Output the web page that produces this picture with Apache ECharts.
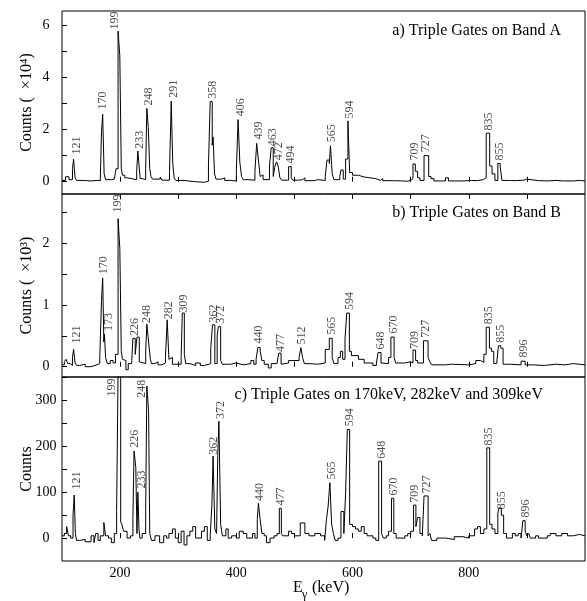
<!DOCTYPE html>
<html>
<head>
<meta charset="utf-8">
<script src="https://cdn.jsdelivr.net/npm/echarts@6/dist/echarts.min.js"></script>
<style>
  html, body { margin: 0; padding: 0; background: #fff; }
  #chart { width: 587px; height: 601px; }
</style>
</head>
<body>
<div id="chart"></div>
<script>
// energy axis (keV)
const xTicks = [200, 300, 400, 500, 600, 700, 800, 900]
const xTickLabels = [200, 400, 600, 800]

// y ticks per panel
const yTicksA = [0, 1, 2, 3, 4, 5, 6]
const yLabelsA = [0, 2, 4, 6]
const yTicksB = [0, 0.5, 1, 1.5, 2, 2.5]
const yLabelsB = [0, 1, 2]
const yTicksC = [0, 50, 100, 150, 200, 250, 300, 350]
const yLabelsC = [0, 100, 200, 300]

// spectra as [energy, counts] histogram steps
// a) counts x10^4
const spectrumA = [[100,0.05],[106,0.19],[112,0.08],[118,0.5],[120,0.86],[122.5,0.15],[125,0.05],[135,0.03],[150,0.05],[160,0.04],[166,0.15],[168,1.94],[170,2.58],[172.5,0.3],[175,0.08],[185,0.1],[190,0.08],[193,0.5],[196.5,5.77],[199.5,4.82],[202,0.5],[204,0.25],[208,0.15],[212,0.08],[228.5,0.4],[230.5,1.18],[232.5,0.65],[234.5,0.12],[238,0.08],[244,0.5],[246,2.81],[248.5,2.08],[251,0.5],[253,0.2],[256,0.1],[269,0.18],[272,0.06],[285,0.4],[288,3.09],[290.5,0.74],[293,0.15],[296,0.05],[310,0.0],[330,-0.02],[345,0.02],[352,0.6],[355,3.07],[358.5,1.4],[360,1.71],[362.5,0.3],[365,0.1],[375,0.15],[380,0.05],[390,0.03],[400,0.4],[403,2.38],[406,0.75],[409,0.2],[412,0.08],[420,0.06],[432,0.4],[435,1.47],[438,0.83],[441,0.2],[443,0.26],[446,0.08],[457,0.6],[460,1.3],[463.5,0.2],[466,0.55],[469,0.76],[472,0.6],[475,0.15],[478,0.06],[490,0.58],[494.5,0.15],[497,0.06],[506,0.08],[514,0.15],[518,0.04],[535,0.08],[540,0.05],[553,0.2],[556,0.83],[560,0.7],[562,1.38],[565,0.3],[568,0.08],[578,0.2],[580,0.45],[584,0.1],[588,0.87],[592,2.33],[595,0.35],[600,0.25],[610,0.18],[620,0.12],[640,0.05],[648,0.12],[652,0.04],[670,0.03],[685,0.02],[695,0.05],[700,0.12],[704,0.68],[708,0.4],[712,0.15],[716,0.05],[723,1.0],[731,0.2],[735,0.12],[740,0.03],[760,0.15],[765,0.03],[790,0.05],[805,0.04],[815,0.08],[825,0.15],[830,1.86],[836,0.6],[840,0.3],[845,0.05],[850,0.7],[854,0.6],[857,0.05],[870,0.04],[880,0.06],[895,0.1],[900,0.04],[920,0.03],[935,0.05],[950,0.03],[963,0.1],[966,0.03],[980,0.05],[990,0.03],[1000,0.03]]
// b) counts x10^3
const spectrumB = [[100,0.03],[104,0.08],[107,0.12],[110,0.05],[114,0.02],[118,0.15],[120,0.28],[122.5,0.06],[125,0.02],[130,0.04],[140,0.0],[150,0.03],[160,0.05],[165,0.15],[168,1.06],[170,1.44],[172,0.4],[173,0.53],[175,0.15],[178,0.05],[183,0.1],[188,0.06],[192,0.2],[196.5,2.4],[199.5,1.92],[202,0.25],[204,0.12],[207,0.1],[210,-0.05],[214,0.05],[220,0.1],[222,0.46],[226,0.2],[229,0.48],[233,0.08],[236,0.05],[244,0.25],[246,0.69],[249,0.4],[252,0.12],[254,0.05],[260,0.08],[265,0.03],[272,0.06],[278,0.15],[281,0.76],[284,0.12],[287,0.15],[290,0.04],[305,0.15],[307,0.87],[310.5,0.2],[313,0.05],[320,0.02],[330,0.06],[338,0.02],[345,0.05],[356,0.3],[359,0.68],[363,0.05],[367,0.5],[369,0.65],[373,0.1],[376,0.04],[390,0.06],[400,0.03],[412,0.05],[425,0.1],[430,0.04],[434,0.12],[437,0.31],[441,0.25],[444,0.1],[448,0.04],[455,-0.02],[460,0.05],[470,0.08],[473,0.22],[477,0.04],[480,0.06],[490,0.1],[508,0.15],[511,0.31],[514,0.15],[517,0.05],[525,0.04],[540,0.06],[553,0.28],[560,0.46],[565,0.15],[568,0.05],[575,0.15],[579,0.25],[583,0.12],[587,0.45],[590,0.87],[594.5,0.25],[598,0.18],[610,0.12],[620,0.06],[635,0.02],[641,0.06],[644,0.23],[649,0.06],[652,0.05],[662,0.15],[666,0.48],[671.5,0.15],[674,0.06],[690,0.08],[700,0.06],[704,0.27],[708.5,0.1],[712,0.06],[722,0.42],[730,0.15],[733,0.08],[736,0.03],[760,0.04],[770,0.03],[800,0.05],[812,0.1],[820,0.07],[826,0.2],[830,0.64],[835.5,0.3],[839,0.25],[843,0.05],[848,0.04],[851,0.34],[855,0.3],[859,0.04],[870,0.03],[890,0.09],[897,0.03],[910,0.02],[930,0.04],[950,0.03],[965,0.05],[980,0.03],[1000,0.03]]
// c) counts
const spectrumC = [[100,5],[104,10],[108,25],[111,5],[115,0],[119,50],[121,94],[123,10],[125,-5],[130,-3],[140,-8],[150,5],[155,-10],[158,10],[162,-5],[166,5],[172,34],[175,5],[180,0],[185,-10],[190,10],[194,58],[197,420],[201,35],[203,30],[206,15],[212,0],[218,5],[222,40],[224,190],[227,154],[229,10],[230.5,100],[232.5,20],[234,0],[238,10],[244,60],[246,332],[249,278],[251,10],[254,-5],[260,5],[268,-10],[275,5],[280,0],[284,10],[290,20],[295,0],[300,-10],[305,15],[310,-15],[315,5],[320,15],[325,25],[330,0],[340,15],[345,25],[350,-5],[355,5],[358,74],[360,179],[363,20],[366,10],[368,180],[370,255],[373,30],[376,5],[382,20],[386,0],[392,5],[400,0],[405,15],[412,10],[418,0],[428,10],[432,0],[436,40],[438,76],[441,40],[444,10],[448,5],[452,-10],[458,0],[465,5],[470,10],[474,65],[477.5,10],[480,5],[490,15],[495,10],[500,5],[510,33],[518,10],[525,5],[535,10],[545,5],[552,-5],[555,40],[558,70],[561,121],[564,30],[567,10],[570,-5],[575,0],[580,58],[585,10],[588,96],[591,237],[595,30],[600,25],[605,20],[610,15],[615,25],[620,10],[625,5],[635,0],[640,-5],[645,168],[650,10],[653,0],[658,5],[662,15],[667,87],[671,10],[675,0],[690,5],[695,10],[700,15],[705,72],[709,25],[712,45],[716,10],[720,5],[723,92],[730,5],[733,10],[736,-5],[745,0],[760,-3],[775,3],[790,0],[800,5],[810,20],[815,25],[820,10],[826,20],[831,197],[836,30],[840,20],[845,10],[850,55],[852,65],[856,50],[860,10],[865,0],[875,10],[880,5],[885,10],[890,0],[893,38],[897,15],[900,5],[903,10],[906,0],[915,5],[920,0],[935,5],[940,10],[950,5],[960,10],[970,5],[980,8],[990,5],[1000,5]]

// peak labels: [text, energy, counts] where the label starts
const labelsA = [['121',125.7,1.02],['170',171.4,2.75],['199',192.3,5.81],['233',235.4,1.24],['248',250.9,2.9],['291',293.1,3.2],['358',361,3.16],['406',408,2.49],['439',439.5,1.6],['463',464,1.34],['472',473.2,0.8],['494',495.4,0.68],['565',565.1,1.49],['594',596.6,2.4],['709',708.1,0.79],['727',726.9,1.11],['835',835.5,1.94],['855',854,0.79]]
const labelsB = [['121',125.7,0.37],['170',172.5,1.49],['173',181.1,0.57],['199',197.7,2.49],['226',225.7,0.49],['248',246.9,0.7],['282',284,0.76],['309',309.7,0.87],['362',362.8,0.71],['372',373.8,0.69],['440',440,0.37],['477',476.6,0.23],['512',514.4,0.35],['565',565.1,0.51],['594',596.6,0.91],['648',649.8,0.27],['670',672.6,0.53],['709',708.1,0.28],['727',726.9,0.46],['835',835.5,0.68],['855',855.5,0.38],['896',895.5,0.14]]
const labelsC = [['121',125.7,105],['199',186.9,308],['226',225.7,196],['233',238.3,107],['248',238.3,305],['362',362.8,181],['372',373.8,259],['440',441.1,80],['477',477.1,70],['565',565.8,127],['594',595.5,243],['648',651.5,172],['670',672.6,92],['709',708.1,76],['727',728,96],['835',835.5,201],['855',857.2,62],['896',898.4,44]]

const serif = '"Liberation Serif", "Times New Roman", serif'

let myChart = echarts.init(document.getElementById('chart'))

const grids = [
  { left: 62, right: 2, top: 11, height: 183 },
  { left: 62, right: 2, top: 194, height: 183 },
  { left: 62, right: 2, top: 377, height: 184 }
].map(g => Object.assign(g, { show: true, borderColor: '#000', borderWidth: 1, backgroundColor: 'transparent' }))

function xAxis(gridIndex, opts) {
  return Object.assign({
    type: 'value', gridIndex: gridIndex, min: 100, max: 1000,
    axisLine: { show: false },
    splitLine: { show: false },
    axisTick: { show: true, inside: true, length: 5, customValues: xTicks, lineStyle: { color: '#000' } },
    axisLabel: { show: false }
  }, opts)
}

function yAxis(gridIndex, min, max, ticks, labels, name) {
  return {
    type: 'value', gridIndex: gridIndex, min: min, max: max,
    axisLine: { show: false },
    splitLine: { show: false },
    axisTick: { show: true, inside: true, length: 5, customValues: ticks, lineStyle: { color: '#000' } },
    axisLabel: { show: true, customValues: labels, margin: 16, align: 'center', color: '#000', fontFamily: serif, fontSize: 14 },
    name: name, nameLocation: 'middle', nameGap: 27, nameMoveOverlap: false,
    nameTextStyle: { color: '#000', fontFamily: serif, fontSize: 16 }
  }
}

function spectrum(idx, data) {
  return {
    type: 'line', xAxisIndex: idx === 2 ? 3 : idx, yAxisIndex: idx, data: data,
    step: 'end', symbol: 'none', silent: true,
    lineStyle: { color: '#000', width: 1 }
  }
}

function peakLabels(idx, labels) {
  return {
    type: 'scatter', xAxisIndex: idx === 2 ? 3 : idx, yAxisIndex: idx,
    symbolSize: 1, itemStyle: { color: 'rgba(0,0,0,0)' }, silent: true,
    data: labels.map(l => ({ name: l[0], value: [l[1], l[2]] })),
    label: {
      show: true, formatter: '{b}', rotate: 90, position: [0, 0],
      align: 'left', verticalAlign: 'middle',
      color: '#222', fontFamily: serif, fontSize: 12
    }
  }
}

function title(text, x, y) {
  return {
    type: 'text', x: x, y: y,
    style: { text: text, fill: '#000', fontFamily: serif, fontSize: 16, textAlign: 'right', textVerticalAlign: 'middle' }
  }
}

const option = {
  animation: false,
  grid: grids,
  xAxis: [
    xAxis(0, {}),
    xAxis(1, {}),
    xAxis(1, { position: 'top' }),
    xAxis(2, {
      axisLabel: { show: true, customValues: xTickLabels, margin: 5, color: '#000', fontFamily: serif, fontSize: 14 }
    })
  ],
  yAxis: [
    yAxis(0, -0.47, 6.54, yTicksA, yLabelsA, 'Counts (  \u00d710\u2074)'),
    yAxis(1, -0.167, 2.8, yTicksB, yLabelsB, 'Counts (  \u00d710\u00b3)'),
    yAxis(2, -50, 351.6, yTicksC, yLabelsC, 'Counts')
  ],
  series: [
    spectrum(0, spectrumA), spectrum(1, spectrumB), spectrum(2, spectrumC),
    peakLabels(0, labelsA), peakLabels(1, labelsB), peakLabels(2, labelsC)
  ],
  graphic: [
    title('a) Triple Gates on Band A', 561, 31),
    title('b) Triple Gates on Band B', 561, 213),
    title('c) Triple Gates on 170keV, 282keV and 309keV', 543, 395),
    { type: 'text', x: 293, y: 588, style: { text: 'E', fill: '#000', fontFamily: serif, fontSize: 16, textVerticalAlign: 'middle' } },
    { type: 'text', x: 302, y: 595, style: { text: '\u03b3', fill: '#000', fontFamily: serif, fontSize: 12, textVerticalAlign: 'middle' } },
    { type: 'text', x: 312, y: 588, style: { text: '(keV)', fill: '#000', fontFamily: serif, fontSize: 16, textVerticalAlign: 'middle' } }
  ]
}

myChart.setOption(option)
</script>
</body>
</html>
